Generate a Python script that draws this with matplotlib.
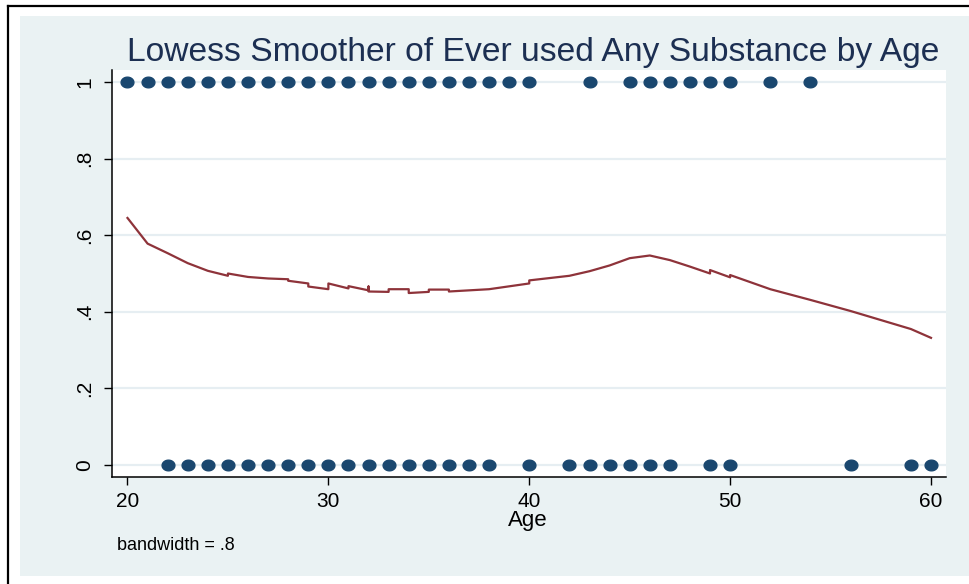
import numpy as np
import matplotlib
matplotlib.use("Agg")
import matplotlib.pyplot as plt
from matplotlib.path import Path
from matplotlib.patches import Rectangle
from matplotlib.lines import Line2D

plt.rcParams['font.family'] = ['Liberation Sans', 'DejaVu Sans']

# ---- data ----
ages_used = [20, 21, 22, 23, 24, 25, 26, 27, 28, 29, 30, 31, 32, 33, 34, 35, 36, 37,
             38, 39, 40, 43, 45, 46, 47, 48, 49, 50, 52, 54]
ages_never = [22, 23, 24, 25, 26, 27, 28, 29, 30, 31, 32, 33, 34, 35, 36, 37, 38, 40,
              42, 43, 44, 45, 46, 47, 49, 50, 56, 59, 60]
lowess_age = [20, 21, 22, 23, 24, 25, 25, 26, 27, 28, 28, 29, 29, 30, 30, 31, 31,
              32, 32, 32, 33, 33, 34, 34, 35, 35, 36, 36, 37, 38, 40, 40, 42, 43,
              44, 45, 46, 47, 48, 49, 49, 50, 50, 52, 54, 56, 59, 60]
lowess_val = [0.645, 0.578, 0.553, 0.527, 0.507, 0.494, 0.500, 0.491, 0.487, 0.485,
              0.481, 0.474, 0.466, 0.459, 0.474, 0.461, 0.467, 0.456, 0.466, 0.453,
              0.452, 0.459, 0.459, 0.449, 0.452, 0.458, 0.458, 0.453, 0.456, 0.459,
              0.474, 0.482, 0.494, 0.506, 0.521, 0.540, 0.547, 0.535, 0.518, 0.500,
              0.509, 0.490, 0.496, 0.459, 0.431, 0.402, 0.355, 0.332]
x_ticks = [20, 30, 40, 50, 60]
x_ticklabels = ['20', '30', '40', '50', '60']
y_ticks = [0, 0.2, 0.4, 0.6, 0.8, 1]
y_ticklabels = ['0', '.2', '.4', '.6', '.8', '1']
title = 'Lowess Smoother of Ever used Any Substance by Age'
xlabel = 'Age'
note = 'bandwidth = .8'

# ---- figure ----
W, H = 969, 584
fig = plt.figure(figsize=(W / 100, H / 100), dpi=100, facecolor='white')

def fx(px):
    return px / W

def fy(py):
    return 1 - py / H

bg = '#eaf2f3'
fig.patches.append(Rectangle((fx(20), fy(576)), fx(969) - fx(20), fy(16) - fy(576),
                             transform=fig.transFigure, facecolor=bg, edgecolor='none',
                             zorder=-10))
fig.lines.append(Line2D([fx(8), fx(969)], [fy(6), fy(6)], transform=fig.transFigure,
                        color='black', lw=1.6, zorder=-5))
fig.lines.append(Line2D([fx(8), fx(8)], [fy(6), fy(584)], transform=fig.transFigure,
                        color='black', lw=1.6, zorder=-5))

ax = fig.add_axes([fx(112), fy(477), fx(946) - fx(112), fy(70) - fy(477)])
ax.set_facecolor('white')
ax.set_zorder(1)

x0, x1 = 20 - 15.5 / 20.09, 60 + 15 / 20.09
y0, y1 = -12 / 383, 1 + 12 / 383
ax.set_xlim(x0, x1)
ax.set_ylim(y0, y1)

for s in ['top', 'right']:
    ax.spines[s].set_visible(False)
for s in ['left', 'bottom']:
    ax.spines[s].set_linewidth(1.1)
    ax.spines[s].set_color('black')

ax.set_xticks(x_ticks)
ax.set_xticklabels(x_ticklabels, fontsize=15)
ax.set_yticks(y_ticks)
ax.set_yticklabels(y_ticklabels, fontsize=15, rotation=90, va='center')
ax.tick_params(axis='both', direction='out', length=6, width=1.0, color='black')
ax.tick_params(axis='x', pad=5)
ax.tick_params(axis='y', pad=7)

ax.grid(axis='y', color='#e6eef2', lw=1.6, zorder=0)
ax.set_axisbelow(True)

theta = np.linspace(0, 2 * np.pi, 60)
ell = Path(np.column_stack([1.2 * np.cos(theta), np.sin(theta)]), closed=True)
navy = '#1a476f'
ax.plot(ages_used, [1] * len(ages_used), linestyle='none', marker=ell, ms=9.2,
        color=navy, mec=navy, zorder=3, clip_on=False)
ax.plot(ages_never, [0] * len(ages_never), linestyle='none', marker=ell, ms=9.2,
        color=navy, mec=navy, zorder=3, clip_on=False)
ax.plot(lowess_age, lowess_val, color='#8e333a', lw=1.6, zorder=4)

fig.text(fx(533), fy(61), title, fontsize=24.2, color='#1c2f52', ha='center', va='baseline')
fig.text(fx(528), fy(526), xlabel, fontsize=16, color='black', ha='center', va='baseline')
fig.text(fx(117), fy(550), note, fontsize=13, color='black', ha='left', va='baseline')

fig.savefig('out.png', dpi=100, facecolor='white')
